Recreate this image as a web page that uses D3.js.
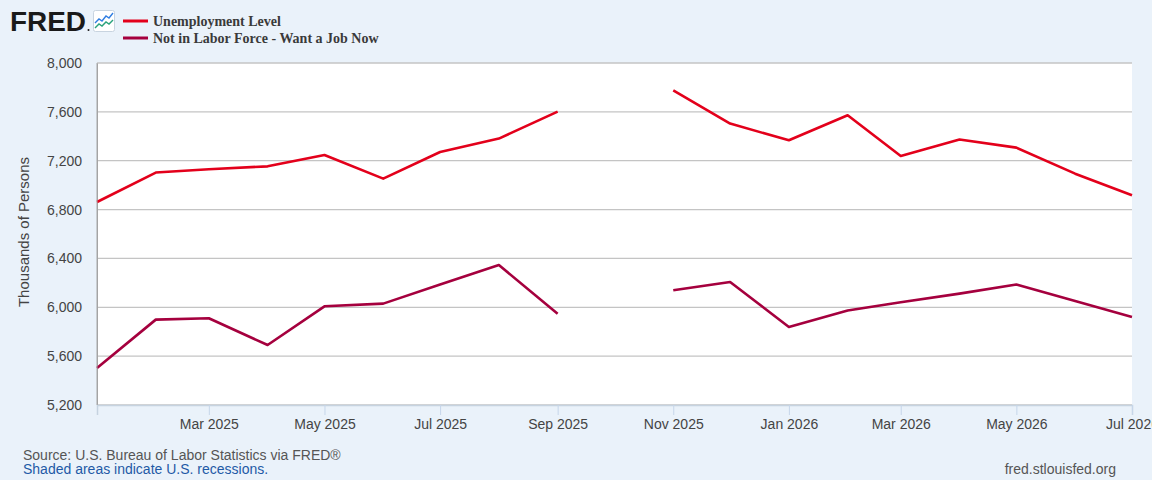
<!DOCTYPE html>
<html><head><meta charset="utf-8">
<script src="https://cdn.jsdelivr.net/npm/d3@7"></script>
<style>
html,body{margin:0;padding:0;background:#eaf2fa;}
svg{display:block;}
</style></head>
<body>
<svg id="chart" width="1152" height="480"></svg>
<script>
const months = ["2025-01","2025-02","2025-03","2025-04","2025-05","2025-06","2025-07","2025-08","2025-09","2025-10","2025-11","2025-12","2026-01","2026-02","2026-03","2026-04","2026-05","2026-06","2026-07"];
const unemploymentLevel = [6862,7103,7130,7154,7247,7053,7271,7381,7602,null,7776,7504,7367,7572,7239,7373,7307,7094,6917];
const wantJobNow = [5503,5899,5910,5691,6008,6030,6186,6346,5948,null,6139,6207,5839,5973,6041,6112,6186,6052,5921];
const seriesNames = ["Unemployment Level","Not in Labor Force - Want a Job Now"];
const seriesColors = ["#e3001b","#a5003e"];
const yTicks = [5200,5600,6000,6400,6800,7200,7600,8000];
const xTickLabels = ["Mar 2025","May 2025","Jul 2025","Sep 2025","Nov 2025","Jan 2026","Mar 2026","May 2026","Jul 2026"];
const yTitle = "Thousands of Persons";
const sourceText = "Source: U.S. Bureau of Labor Statistics via FRED\u00AE";
const shadedText = "Shaded areas indicate U.S. recessions.";
const siteText = "fred.stlouisfed.org";

const parse = d3.timeParse("%Y-%m");
const parseTick = d3.timeParse("%b %Y");
const dates = months.map(parse);

const svg = d3.select("#chart");
const L = 97, R = 1132, T = 63, B = 405;

const x = d3.scaleTime().domain([dates[0], dates[dates.length-1]]).range([L, R]);
const y = d3.scaleLinear().domain([5200, 8000]).range([B, T]);

// plot background
svg.append("rect").attr("x", L).attr("y", T).attr("width", R - L).attr("height", B - T).attr("fill", "#ffffff");

// gridlines
svg.append("g").selectAll("line").data(yTicks).join("line")
  .attr("x1", L).attr("x2", R)
  .attr("y1", d => y(d)).attr("y2", d => y(d))
  .attr("stroke", "#c4c4c4").attr("stroke-width", 1.3);

// y axis
const yAxis = svg.append("g").attr("transform", `translate(${L},0)`)
  .call(d3.axisLeft(y).tickValues(yTicks).tickSize(0).tickPadding(15).tickFormat(d3.format(",")));
yAxis.select(".domain").attr("stroke", "#a0a0a0");
yAxis.selectAll("text").attr("font-family", "Arial, 'Liberation Sans', sans-serif").attr("font-size", 14).attr("fill", "#444");

// x axis
const xAxis = svg.append("g").attr("transform", `translate(0,${B})`)
  .call(d3.axisBottom(x).tickValues(xTickLabels.map(parseTick)).tickSize(10).tickPadding(4).tickFormat(d3.timeFormat("%b %Y")));
xAxis.select(".domain").attr("stroke", "#c6d3e0").attr("stroke-width", 1.5);
xAxis.selectAll(".tick line").attr("stroke", "#c6d6ea");
xAxis.selectAll("text").attr("font-family", "Arial, 'Liberation Sans', sans-serif").attr("font-size", 14).attr("fill", "#444");

// y title
svg.append("text").attr("transform", `translate(29,${(T + B) / 2 - 2}) rotate(-90)`)
  .attr("text-anchor", "middle").attr("font-family", "Arial, 'Liberation Sans', sans-serif")
  .attr("font-size", 15).attr("fill", "#444").text(yTitle);

// lines
const line = d3.line().defined(d => d[1] != null).x(d => x(d[0])).y(d => y(d[1]));
[unemploymentLevel, wantJobNow].forEach((vals, i) => {
  svg.append("path").datum(dates.map((d, j) => [d, vals[j]]))
    .attr("fill", "none").attr("stroke", seriesColors[i]).attr("stroke-width", 2.6)
    .attr("stroke-linejoin", "round").attr("d", line);
});

// left axis line on top
svg.append("line").attr("x1", L).attr("x2", L).attr("y1", T).attr("y2", B).attr("stroke", "#a8a8a8").attr("stroke-width", 1);

// FRED logo
svg.append("text").attr("x", 10).attr("y", 31).attr("font-family", "Arial, 'Liberation Sans', sans-serif")
  .attr("font-weight", "bold").attr("font-size", 28).attr("textLength", 76).attr("lengthAdjust", "spacingAndGlyphs")
  .attr("fill", "#1a1a1a").text("FRED");
svg.append("circle").attr("cx", 88.5).attr("cy", 30).attr("r", 1).attr("fill", "#1a1a1a");
const icon = svg.append("g").attr("transform", "translate(93,10)");
icon.append("rect").attr("x", 0.5).attr("y", 0.5).attr("width", 21).attr("height", 21).attr("rx", 2).attr("fill", "#fff").attr("stroke", "#c8d4e0");
icon.append("polyline").attr("points", "2,13 6,9 9,11 13,6 16,8 20,3").attr("fill", "none").attr("stroke", "#2f7de1").attr("stroke-width", 1.4);
icon.append("polyline").attr("points", "2,18 6,14 9,16 13,12 16,14 20,10").attr("fill", "none").attr("stroke", "#2aa27b").attr("stroke-width", 1.4);

// legend
const leg = svg.append("g");
seriesNames.forEach((n, i) => {
  const yy = 21 + i * 17;
  leg.append("line").attr("x1", 123).attr("x2", 148).attr("y1", yy).attr("y2", yy).attr("stroke", seriesColors[i]).attr("stroke-width", 3);
  leg.append("text").attr("x", 153).attr("y", yy + 4.5).attr("font-family", "'Liberation Serif', 'Times New Roman', serif")
    .attr("font-weight", "bold").attr("font-size", 14).attr("fill", "#3a3a3a").text(n);
});

// footer
svg.append("text").attr("x", 23).attr("y", 460).attr("font-family", "Arial, 'Liberation Sans', sans-serif")
  .attr("font-size", 14).attr("fill", "#555").text(sourceText);
svg.append("text").attr("x", 23).attr("y", 474).attr("font-family", "Arial, 'Liberation Sans', sans-serif")
  .attr("font-size", 14).attr("fill", "#1f5aa6").text(shadedText);
svg.append("text").attr("x", 1116).attr("y", 474).attr("text-anchor", "end").attr("font-family", "Arial, 'Liberation Sans', sans-serif")
  .attr("font-size", 14).attr("fill", "#555").text(siteText);
</script>
</body></html>
